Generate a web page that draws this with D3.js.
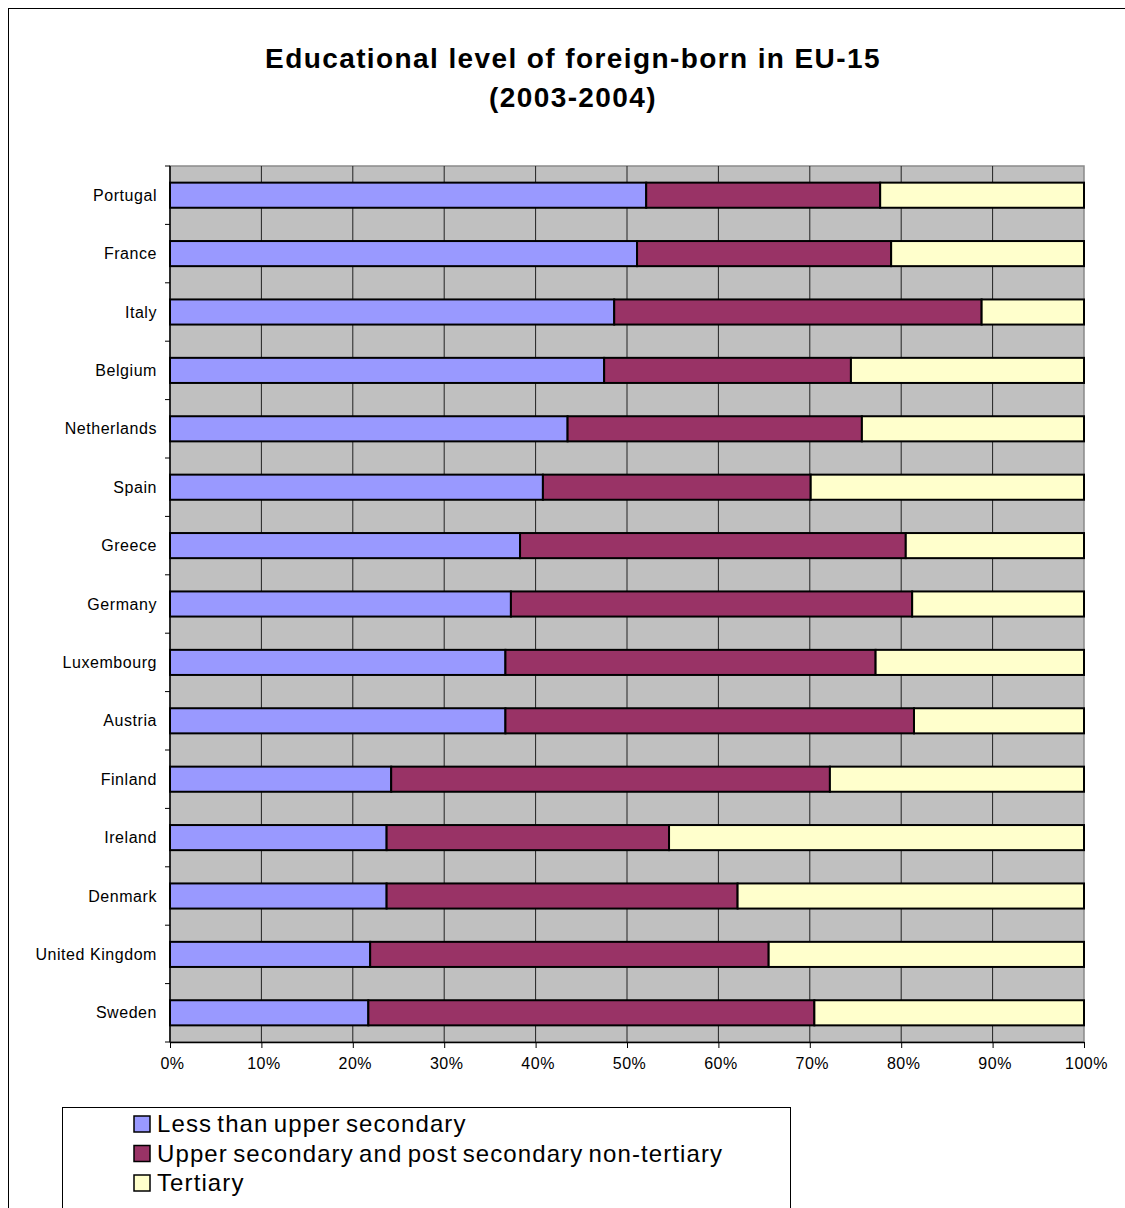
<!DOCTYPE html>
<html>
<head>
<meta charset="utf-8">
<script src="https://cdn.jsdelivr.net/npm/d3@7"></script>
<style>
  body { margin: 0; background: #fff; }
  text { font-family: "Liberation Sans", Arial, sans-serif; }
</style>
</head>
<body>
<div id="chart"></div>
<script>
const countries = ["Portugal", "France", "Italy", "Belgium", "Netherlands", "Spain", "Greece",
  "Germany", "Luxembourg", "Austria", "Finland", "Ireland", "Denmark", "United Kingdom", "Sweden"];

// shares in %
const lessThanUpper = [52.1, 51.1, 48.6, 47.5, 43.5, 40.8, 38.3, 37.3, 36.7, 36.7, 24.2, 23.7, 23.7, 21.9, 21.7];
const upperSecondary = [25.6, 27.8, 40.2, 27.0, 32.2, 29.3, 42.2, 43.9, 40.5, 44.7, 48.0, 30.9, 38.4, 43.6, 48.8];
const tertiary = lessThanUpper.map((d, i) => +(100 - d - upperSecondary[i]).toFixed(1));

const seriesNames = ["Less than upper secondary", "Upper secondary and post secondary non-tertiary", "Tertiary"];
const seriesColors = ["#9999FF", "#993366", "#FFFFCC"];
const xTicks = [0, 10, 20, 30, 40, 50, 60, 70, 80, 90, 100];

const width = 1125, height = 1208;
const margin = {left: 170, right: 41, top: 166, bottom: 166};

const rows = countries.map((c, i) => ({
  country: c,
  less: lessThanUpper[i],
  upper: upperSecondary[i],
  tert: tertiary[i]
}));
const stack = d3.stack().keys(["less", "upper", "tert"])(rows);

const svg = d3.select("#chart")
  .append("svg")
  .attr("width", width)
  .attr("height", height);

// outer chart frame
svg.append("rect")
  .attr("x", 8.5).attr("y", 8.5)
  .attr("width", width + 20).attr("height", height + 20)
  .attr("fill", "white")
  .attr("stroke", "black")
  .attr("stroke-width", 1);

const x = d3.scaleLinear().domain([0, 100]).range([margin.left, width - margin.right]);
const y = d3.scaleBand().domain(countries).range([margin.top, height - margin.bottom]).paddingInner(0.57).paddingOuter(0.285);

// plot background
svg.append("rect")
  .attr("x", x(0)).attr("y", margin.top)
  .attr("width", x(100) - x(0)).attr("height", height - margin.bottom - margin.top)
  .attr("fill", "#C0C0C0")
  .attr("stroke", "#8a8a8a")
  .attr("stroke-width", 1.5);

// vertical grid
svg.append("g")
  .selectAll("line")
  .data(xTicks.slice(1, -1))
  .join("line")
  .attr("x1", d => x(d)).attr("x2", d => x(d))
  .attr("y1", margin.top).attr("y2", height - margin.bottom)
  .attr("stroke", "#222")
  .attr("stroke-width", 1);

// bars
svg.append("g")
  .selectAll("g")
  .data(stack)
  .join("g")
  .attr("fill", (d, i) => seriesColors[i])
  .selectAll("rect")
  .data(d => d)
  .join("rect")
  .attr("x", d => x(d[0]))
  .attr("y", d => y(d.data.country))
  .attr("width", d => x(d[1]) - x(d[0]))
  .attr("height", y.bandwidth())
  .attr("stroke", "black")
  .attr("stroke-width", 2);

// x axis
const xAxis = svg.append("g")
  .attr("transform", `translate(0,${height - margin.bottom})`)
  .call(d3.axisBottom(x).tickValues(xTicks).tickFormat(d => d + "%").tickSize(6).tickSizeOuter(0));
xAxis.select(".domain").attr("stroke", "black").attr("stroke-width", 1.5);
xAxis.selectAll(".tick line").attr("stroke", "black");
xAxis.selectAll("text")
  .attr("font-size", 16)
  .attr("dy", "1.1em")
  .attr("dx", 2)
  .attr("fill", "black")
  .attr("letter-spacing", 0.5)
  .attr("font-family", "Liberation Sans, Arial, sans-serif");

// y axis: line, ticks at band boundaries, labels at band centres
const step = y.step();
const boundaries = d3.range(countries.length + 1).map(i => margin.top + i * step);
svg.append("line")
  .attr("x1", x(0)).attr("x2", x(0))
  .attr("y1", margin.top).attr("y2", height - margin.bottom)
  .attr("stroke", "black").attr("stroke-width", 1.5);
svg.append("g")
  .selectAll("line")
  .data(boundaries)
  .join("line")
  .attr("x1", x(0) - 5).attr("x2", x(0))
  .attr("y1", d => d).attr("y2", d => d)
  .attr("stroke", "black");
svg.append("g")
  .attr("font-size", 16)
  .attr("letter-spacing", 0.55)
  .attr("text-anchor", "end")
  .selectAll("text")
  .data(countries)
  .join("text")
  .attr("x", x(0) - 13)
  .attr("y", d => y(d) + y.bandwidth() / 2)
  .attr("dy", "0.35em")
  .text(d => d);

// title
svg.append("g")
  .attr("font-size", 28)
  .attr("font-weight", "bold")
  .attr("letter-spacing", 1.4)
  .attr("text-anchor", "middle")
  .selectAll("text")
  .data(["Educational level of foreign-born in EU-15", "(2003-2004)"])
  .join("text")
  .attr("x", 573)
  .attr("y", (d, i) => 68 + i * 39)
  .text(d => d);

// legend
const legend = svg.append("g");
legend.append("rect")
  .attr("x", 62.5).attr("y", 1107.5)
  .attr("width", 728).attr("height", 120)
  .attr("fill", "white")
  .attr("stroke", "black");
const items = legend.selectAll("g.item")
  .data(seriesNames)
  .join("g")
  .attr("class", "item")
  .attr("transform", (d, i) => `translate(134,${1116 + i * 29.5})`);
items.append("rect")
  .attr("width", 16).attr("height", 16)
  .attr("fill", (d, i) => seriesColors[i])
  .attr("stroke", "black")
  .attr("stroke-width", 1.5);
items.append("text")
  .attr("x", 23)
  .attr("y", 8)
  .attr("dy", "0.35em")
  .attr("font-size", 24)
  .attr("letter-spacing", 1.1)
  .attr("word-spacing", -2.5)
  .text(d => d);
</script>
</body>
</html>
